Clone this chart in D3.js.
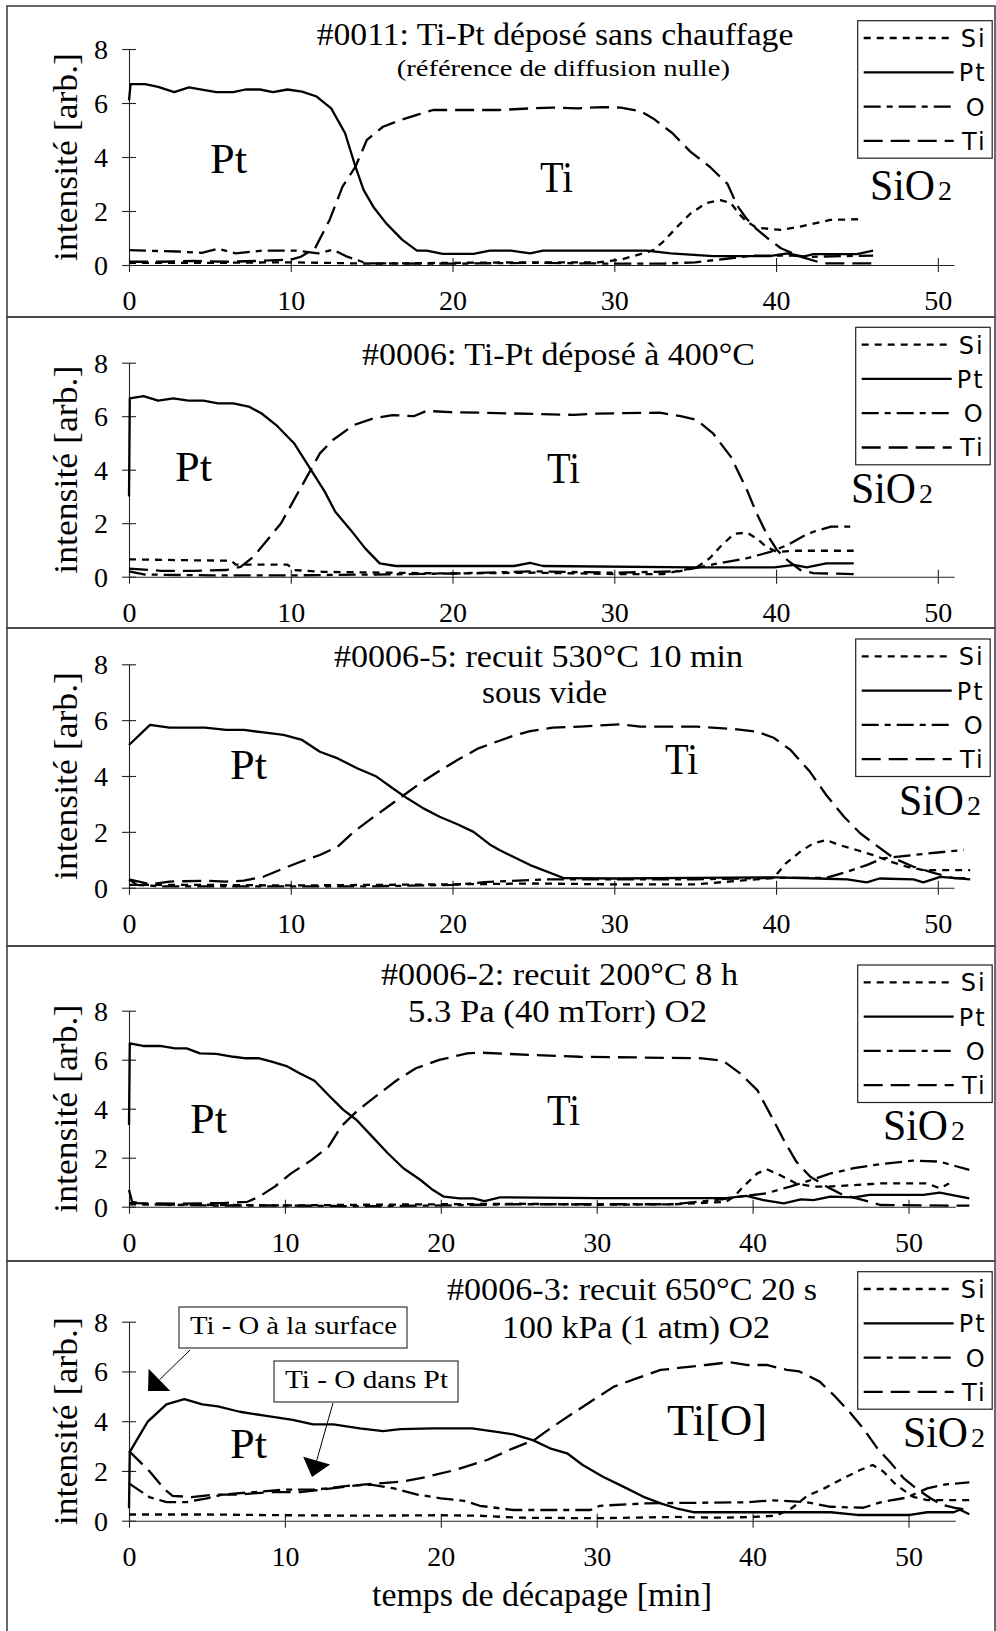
<!DOCTYPE html>
<html>
<head>
<meta charset="utf-8">
<script src="https://cdn.jsdelivr.net/npm/d3@7"></script>
<style>
  body { margin: 0; background: #fff; }
  svg { display: block; }
</style>
</head>
<body>
<svg id="chart" width="996" height="1631"></svg>
<script>
// ---- Depth profiles (AES sputter profiles): [time (min), intensity (arb.)] ----
const elements = ["Si", "Pt", "O", "Ti"];
const xTicks = [0, 10, 20, 30, 40, 50];
const yTicks = [0, 2, 4, 6, 8];

const titles = [
  "#0011: Ti-Pt déposé sans chauffage",
  "#0006: Ti-Pt déposé à 400°C",
  "#0006-5: recuit 530°C 10 min",
  "#0006-2: recuit 200°C 8 h",
  "#0006-3: recuit 650°C 20 s"
];
const subtitles = [
  "(référence de diffusion nulle)",
  "",
  "sous vide",
  "5.3 Pa (40 mTorr) O2",
  "100 kPa (1 atm) O2"
];
const layerLabels = [
  ["Pt", "Ti", "SiO"],
  ["Pt", "Ti", "SiO"],
  ["Pt", "Ti", "SiO"],
  ["Pt", "Ti", "SiO"],
  ["Pt", "Ti[O]", "SiO"]
];
const yTitle = "intensité [arb.]";
const xTitle = "temps de décapage [min]";
const notes = ["Ti - O à la surface", "Ti - O dans Pt"];

// #0011
const p1Si = [[0,0.08],[5,0.08],[10,0.1],[15,0.05],[20,0.08],[25,0.1],[29,0.1],[30.4,0.2],[31.6,0.4],[32.4,0.55],[33.0,0.85],[33.9,1.42],[34.7,1.9],[35.7,2.3],[36.55,2.4],[37.2,2.3],[37.7,1.9],[38.2,1.6],[38.8,1.38],[40.3,1.3],[41.5,1.42],[43.35,1.67],[45.4,1.7]];
const p1Pt = [[0,6.1],[0.1,6.7],[1,6.7],[1.8,6.6],[2.8,6.4],[3.7,6.58],[5.4,6.4],[6.45,6.4],[7.2,6.5],[8.1,6.5],[8.9,6.4],[9.8,6.5],[10.7,6.42],[11.6,6.24],[12.5,5.8],[13.36,4.88],[14.0,3.64],[14.5,2.78],[15.1,2.16],[15.9,1.54],[16.9,0.93],[17.8,0.53],[18.4,0.53],[19.4,0.41],[21.3,0.41],[22.3,0.53],[23.6,0.53],[24.8,0.43],[25.6,0.53],[32.0,0.53],[33.5,0.43],[36.1,0.33],[39.6,0.33],[40.7,0.43],[41.7,0.31],[42.3,0.4],[45.0,0.4],[46.0,0.53]];
const p1O  = [[0,0.55],[1,0.53],[3,0.5],[4.5,0.45],[5.5,0.6],[6.6,0.43],[8.2,0.53],[10.4,0.53],[11.7,0.43],[12.6,0.57],[13.4,0.33],[14.7,0.06],[20,0.05],[25,0.08],[30,0.05],[33,0.05],[35,0.1],[37.2,0.25],[38.5,0.35],[41,0.35],[42,0.3],[44,0.33],[46,0.35]];
const p1Ti = [[0,0.12],[2,0.12],[4,0.15],[6,0.12],[8,0.15],[10,0.2],[10.6,0.3],[11.5,0.62],[12.4,1.67],[13.2,2.9],[14.0,3.64],[14.7,4.63],[15.7,5.12],[16.8,5.37],[17.8,5.56],[18.8,5.74],[20,5.74],[22.9,5.74],[24.8,5.8],[26.2,5.83],[27.7,5.8],[29.3,5.85],[30.4,5.83],[31.6,5.7],[32.4,5.43],[33.6,4.88],[34.7,4.2],[35.9,3.64],[37.0,3.0],[37.6,2.2],[38.2,1.7],[38.8,1.33],[39.6,0.93],[40.3,0.62],[41.5,0.31],[42.9,0.06],[46.0,0.06]];

// #0006
const p2Si = [[0,0.65],[3,0.62],[6.3,0.6],[6.6,0.45],[9.8,0.45],[10.2,0.25],[12,0.18],[16,0.15],[20,0.12],[25,0.15],[30,0.1],[33,0.1],[35.1,0.35],[35.9,0.69],[36.55,1.12],[37.4,1.6],[38.2,1.65],[38.8,1.43],[39.4,1.12],[40.05,0.93],[41.3,0.97],[44.8,0.97]];
const p2Pt = [[0,3.0],[0.05,6.67],[0.9,6.75],[1.8,6.58],[2.75,6.67],[3.67,6.58],[4.6,6.58],[5.5,6.48],[6.45,6.48],[7.4,6.36],[8.2,6.1],[9.1,5.67],[10.2,4.99],[11.25,3.99],[12.1,3.18],[12.75,2.43],[13.7,1.75],[14.6,1.06],[15.5,0.5],[16.5,0.4],[23.8,0.4],[24.8,0.52],[25.6,0.4],[34.9,0.35],[39.9,0.35],[41.1,0.44],[41.9,0.35],[43.1,0.5],[44.8,0.5]];
const p2O  = [[0,0.2],[1,0.08],[5,0.05],[10,0.05],[15,0.08],[20,0.12],[25,0.2],[30,0.15],[34,0.2],[36.1,0.46],[38.2,0.69],[39.65,0.93],[40.7,1.18],[41.7,1.52],[42.3,1.68],[43.4,1.87],[44.8,1.87]];
const p2Ti = [[0,0.3],[2,0.22],[4,0.22],[6,0.25],[6.9,0.37],[7.7,0.75],[8.55,1.37],[9.4,2.0],[10.2,2.87],[11.0,3.74],[11.8,4.61],[12.6,5.11],[13.9,5.67],[15.1,5.92],[16.3,6.04],[17.6,6.0],[18.4,6.2],[19.85,6.15],[21.7,6.13],[27.5,6.05],[28.9,6.1],[32.8,6.13],[34.1,6.0],[35.1,5.86],[36.1,5.36],[37.2,4.49],[38.2,3.24],[38.8,2.37],[39.4,1.62],[40.05,1.0],[40.7,0.62],[41.5,0.25],[42.3,0.13],[44.8,0.1]];

// #0006-5
const p3Si = [[0,0.1],[5,0.1],[10,0.08],[15,0.1],[20,0.12],[25,0.15],[30,0.12],[35,0.12],[39.85,0.35],[40.6,0.87],[41.5,1.29],[42.3,1.59],[43.1,1.71],[43.9,1.53],[45.0,1.35],[46.0,1.17],[47.1,0.93],[48.1,0.75],[49.1,0.63],[52,0.63]];
const p3Pt = [[0,5.11],[1.3,5.83],[2.5,5.73],[4.7,5.73],[6.0,5.65],[7.1,5.65],[8.3,5.56],[9.55,5.47],[10.7,5.29],[11.8,4.87],[12.9,4.63],[14.1,4.28],[15.3,3.98],[16.3,3.56],[17.2,3.2],[18.2,2.84],[19.2,2.54],[20.3,2.27],[21.3,2.0],[22.3,1.55],[22.9,1.35],[24.8,0.81],[26.9,0.34],[30,0.33],[35,0.35],[40,0.37],[43.1,0.32],[44.4,0.3],[45.6,0.19],[46.4,0.33],[48.5,0.3],[49.1,0.19],[50.15,0.39],[52.0,0.3]];
const p3O  = [[0,0.3],[0.5,0.1],[2,0.05],[10,0.05],[15,0.05],[20,0.1],[22,0.2],[26,0.3],[30,0.3],[35,0.3],[40,0.35],[43.1,0.35],[44.4,0.57],[45.6,0.81],[46.6,1.05],[48.5,1.17],[50.15,1.27],[51.6,1.35]];
const p3Ti = [[0,0.3],[1.3,0.12],[2.5,0.22],[4.7,0.25],[6.0,0.22],[7.1,0.25],[8.3,0.39],[9.55,0.69],[10.6,0.93],[11.8,1.17],[12.9,1.47],[13.9,2.0],[15.0,2.48],[16.0,2.9],[17.0,3.32],[18.0,3.74],[19.1,4.15],[20.3,4.57],[21.6,4.99],[23.6,5.41],[24.8,5.61],[26.2,5.73],[27.9,5.77],[30.4,5.85],[31.6,5.77],[35.1,5.77],[37.4,5.68],[38.8,5.59],[39.85,5.37],[40.9,4.93],[42.1,4.15],[43.1,3.32],[44.2,2.54],[45.2,1.95],[46.3,1.47],[47.3,1.05],[48.5,0.75],[49.8,0.52],[51.0,0.34],[51.7,0.34]];

// #0006-2
const p4Si = [[0,0.1],[5,0.08],[10,0.05],[15,0.08],[20,0.1],[25,0.12],[30,0.08],[35,0.1],[38.3,0.2],[38.8,0.4],[39.4,0.82],[40.3,1.36],[40.9,1.53],[41.75,1.29],[42.8,0.95],[43.9,0.82],[44.9,0.82],[48.2,0.95],[51.2,0.95],[52.0,0.75],[52.6,0.95]];
const p4Pt = [[0,3.33],[0.05,6.67],[0.9,6.56],[2.0,6.56],[2.95,6.46],[3.7,6.46],[4.55,6.26],[5.6,6.24],[6.7,6.12],[7.4,6.06],[8.3,6.06],[9.15,5.92],[10.1,5.74],[10.97,5.44],[11.9,5.14],[12.9,4.49],[13.75,3.95],[14.6,3.54],[15.6,2.86],[16.6,2.18],[17.6,1.57],[18.7,1.09],[19.5,0.68],[20.2,0.41],[21.2,0.34],[22.1,0.34],[22.8,0.23],[23.8,0.38],[30,0.35],[38.3,0.35],[39.6,0.44],[40.7,0.27],[42.0,0.14],[43.1,0.3],[43.9,0.27],[45.0,0.41],[46.5,0.38],[47.5,0.48],[50.95,0.48],[52.0,0.57],[53.9,0.34]];
const p4O  = [[0,0.68],[0.2,0.2],[1,0.1],[5,0.05],[10,0.05],[15,0.02],[20,0.05],[25,0.1],[30,0.1],[35,0.1],[38,0.3],[39.2,0.41],[40.9,0.55],[42.4,0.82],[43.9,1.12],[45.0,1.36],[46.5,1.57],[48.2,1.74],[50.3,1.88],[52.0,1.84],[53.9,1.5]];
const p4Ti = [[0,0.15],[3,0.12],[6,0.15],[7.6,0.2],[8.35,0.41],[9.35,0.82],[10.4,1.36],[11.7,1.9],[12.8,2.45],[13.6,3.27],[14.7,3.95],[15.8,4.49],[17.2,5.17],[18.4,5.65],[19.9,5.99],[21.7,6.26],[22.5,6.29],[25.9,6.19],[28.9,6.12],[36.6,6.06],[38.1,5.96],[39.2,5.44],[40.3,4.76],[41.1,3.81],[42.0,2.72],[42.8,1.84],[43.7,1.22],[44.75,0.82],[45.8,0.48],[47.1,0.27],[48.2,0.07],[53.9,0.04]];

// #0006-3
const p5Si = [[0,0.25],[5,0.25],[10,0.22],[15,0.2],[20,0.22],[22.5,0.2],[25,0.12],[30,0.1],[35,0.15],[38,0.12],[40,0.15],[41.5,0.2],[42.5,0.5],[43.5,1.0],[44.6,1.3],[45.8,1.7],[46.9,2.04],[47.7,2.24],[48.4,1.97],[49.2,1.44],[50.3,0.96],[51.2,0.83],[53.9,0.83]];
const p5Pt = [[0,0.5],[0.05,2.77],[1.2,3.98],[2.4,4.68],[3.55,4.89],[4.7,4.68],[5.7,4.6],[7.1,4.38],[8.7,4.22],[10.5,4.05],[11.8,3.87],[13.1,3.87],[14.8,3.71],[16.3,3.6],[17.4,3.68],[19.5,3.71],[22.0,3.71],[23.8,3.55],[24.65,3.47],[25.9,3.24],[27.0,2.91],[28.1,2.71],[29.1,2.24],[30.4,1.77],[31.7,1.37],[33.0,0.96],[34.1,0.7],[35.1,0.5],[36.2,0.34],[39.6,0.34],[45.0,0.34],[46.7,0.23],[50.1,0.23],[51.2,0.34],[52.9,0.34],[53.3,0.44],[53.9,0.26]];
const p5O  = [[0,1.5],[1.3,0.95],[2.4,0.75],[3.7,0.75],[5,0.9],[6,1.05],[8,1.15],[10,1.25],[12,1.25],[14,1.4],[15.5,1.45],[17,1.3],[18.5,1.05],[20,0.9],[21.5,0.8],[22.5,0.6],[24.65,0.43],[29.6,0.43],[30.2,0.6],[33.2,0.7],[39.6,0.74],[41.3,0.82],[43.5,0.74],[45.0,0.56],[47.1,0.52],[48.2,0.74],[49.9,0.93],[51.2,1.3],[52.4,1.46],[53.9,1.54]];
const p5Ti = [[0,2.8],[1.3,2.0],[2.3,1.25],[2.8,1.0],[4,0.95],[5.5,1.05],[7,1.05],[9,1.15],[11,1.15],[13,1.3],[15,1.45],[17.5,1.57],[19,1.75],[21,2.05],[23,2.45],[24.6,2.9],[26,3.25],[27,3.7],[28.3,4.25],[29.6,4.78],[31.1,5.39],[32.6,5.73],[34.1,6.06],[35.4,6.15],[37,6.26],[38.5,6.37],[39.6,6.26],[40.9,6.26],[42.2,6.06],[43,6.0],[44.3,5.59],[45.2,5.05],[46.2,4.38],[47.1,3.71],[48,2.91],[48.8,2.37],[49.7,1.7],[50.5,1.3],[51.4,0.9],[52.2,0.63],[53.1,0.5],[53.9,0.44]];

const profiles = [
  [p1Si, p1Pt, p1O, p1Ti],
  [p2Si, p2Pt, p2O, p2Ti],
  [p3Si, p3Pt, p3O, p3Ti],
  [p4Si, p4Pt, p4O, p4Ti],
  [p5Si, p5Pt, p5O, p5Ti]
];

// ---- Styling and placement ----
const SERIF = "'Liberation Serif', 'Times New Roman', serif";
const SANS = "'DejaVu Sans', Verdana, sans-serif";
const dashes = { Si: "7,6", Pt: null, O: "17,6,6,6", Ti: "19,8" };

const frames = [
  { top: 6,    bot: 317,  y0: 265,    y8: 49,     xMax: 51, xEnd: 954, leg: [857.7, 20.7],
    title: [316.7, 476.7, 45, 31], sub: [396.7, 333.3, 76, 24],
    pt: [210, 173], ti: [540, 192, 33], sio: [870, 200] },
  { top: 317,  bot: 628,  y0: 576.7,  y8: 362.7,  xMax: 51, xEnd: 954, leg: [855.7, 327.3],
    title: [362, 393, 365, 31], sub: null,
    pt: [175, 481], ti: [547, 483, 33], sio: [851, 503] },
  { top: 628,  bot: 946,  y0: 887.7,  y8: 664.3,  xMax: 51, xEnd: 954, leg: [855.7, 639],
    title: [334, 409, 667, 31], sub: [482, 125, 703, 31],
    pt: [230, 779], ti: [665, 774, 33], sio: [899, 815] },
  { top: 946,  bot: 1261, y0: 1206.7, y8: 1010.7, xMax: 53, xEnd: 955.3, leg: [857.7, 965],
    title: [381, 357, 985, 31], sub: [408, 299, 1022, 31],
    pt: [190, 1133], ti: [547, 1125, 33], sio: [883, 1140] },
  { top: 1261, bot: 1640, y0: 1520.7, y8: 1321.7, xMax: 53, xEnd: 955.3, leg: [857.7, 1271.7],
    title: [447, 370, 1300, 31], sub: [502, 268, 1338, 31],
    pt: [230, 1458], ti: [667, 1435, 100], sio: [903, 1447] }
];

const svg = d3.select("#chart");

function fitText(g, str, x, y, size, width, family) {
  const t = g.append("text")
    .attr("x", x).attr("y", y)
    .attr("font-family", family || SERIF)
    .attr("font-size", size)
    .attr("fill", "#000")
    .text(str);
  if (width) t.attr("textLength", width).attr("lengthAdjust", "spacingAndGlyphs");
  return t;
}

frames.forEach((f, i) => {
  const g = svg.append("g");

  // panel frame
  g.append("rect")
    .attr("x", 7).attr("y", f.top)
    .attr("width", 988).attr("height", f.bot - f.top)
    .attr("fill", "none").attr("stroke", "#444").attr("stroke-width", 1.6);

  const x = d3.scaleLinear().domain([0, f.xMax]).range([129, f.xEnd]);
  const y = d3.scaleLinear().domain([0, 8]).range([f.y0, f.y8]);

  // axes: ticks cross the axis lines on both sides
  const xAxis = g.append("g").attr("transform", `translate(0,${f.y0})`)
    .call(d3.axisBottom(x).tickValues(xTicks).tickSizeInner(7).tickSizeOuter(0).tickFormat(d3.format("d")));
  g.append("g").attr("transform", `translate(0,${f.y0})`)
    .call(d3.axisBottom(x).tickValues(xTicks).tickSizeInner(-7).tickSizeOuter(0).tickFormat(""))
    .select(".domain").remove();
  xAxis.selectAll("text")
    .attr("y", 45).attr("dy", 0)
    .attr("font-family", SERIF).attr("font-size", 28).attr("fill", "#000");

  const yAxis = g.append("g").attr("transform", "translate(129,0)")
    .call(d3.axisLeft(y).tickValues(yTicks).tickSizeInner(7).tickSizeOuter(0));
  g.append("g").attr("transform", "translate(129,0)")
    .call(d3.axisLeft(y).tickValues(yTicks).tickSizeInner(-7).tickSizeOuter(0).tickFormat(""))
    .select(".domain").remove();
  yAxis.selectAll("text")
    .attr("x", -21).attr("dy", "0.34em")
    .attr("font-family", SERIF).attr("font-size", 28).attr("fill", "#000");

  g.selectAll(".domain, .tick line").attr("stroke", "#222").attr("stroke-width", 1.1);

  // y axis title
  const cy = (f.y0 + f.y8) / 2;
  g.append("text")
    .attr("transform", `translate(77,${cy}) rotate(-90)`)
    .attr("text-anchor", "middle")
    .attr("font-family", SERIF).attr("font-size", 34)
    .attr("textLength", 208).attr("lengthAdjust", "spacingAndGlyphs")
    .text(yTitle);

  // profiles
  const line = d3.line().x(d => x(d[0])).y(d => y(d[1]));
  profiles[i].forEach((series, k) => {
    g.append("path")
      .datum(series)
      .attr("d", line)
      .attr("fill", "none")
      .attr("stroke", "#000")
      .attr("stroke-width", 2.3)
      .attr("stroke-linejoin", "round")
      .attr("stroke-dasharray", dashes[elements[k]]);
  });

  // titles
  fitText(g, titles[i], f.title[0], f.title[2], f.title[3], f.title[1]);
  if (f.sub && subtitles[i]) fitText(g, subtitles[i], f.sub[0], f.sub[2], f.sub[3], f.sub[1]);

  // layer labels
  fitText(g, layerLabels[i][0], f.pt[0], f.pt[1], 42, 37);
  fitText(g, layerLabels[i][1], f.ti[0], f.ti[1], 44, f.ti[2]);
  fitText(g, layerLabels[i][2], f.sio[0], f.sio[1], 44, 65);
  fitText(g, "2", f.sio[0] + 68, f.sio[1], 28, 14);

  // legend
  const lg = g.append("g").attr("transform", `translate(${f.leg[0]},${f.leg[1]})`);
  lg.append("rect").attr("width", 134.5).attr("height", 137.5)
    .attr("fill", "#fff").attr("stroke", "#222").attr("stroke-width", 1.2);
  elements.forEach((el, k) => {
    const ry = 17.3 + k * 34.3;
    lg.append("line")
      .attr("x1", 6).attr("x2", 96).attr("y1", ry).attr("y2", ry)
      .attr("stroke", "#000").attr("stroke-width", 2.3)
      .attr("stroke-dasharray", dashes[el]);
    lg.append("text")
      .attr("x", 129).attr("y", ry + 9)
      .attr("text-anchor", "end")
      .attr("font-family", SANS).attr("font-size", 24)
      .attr("letter-spacing", 2)
      .text(el);
  });
});

// x axis title (bottom panel)
fitText(svg, xTitle, 372, 1606, 33, 340);

// callouts in the bottom panel
const callouts = [
  { box: [179, 1307, 228, 41], text: [190, 1334, 207], from: [190, 1350], tip: [148, 1391], len: 16, half: 15.5 },
  { box: [274, 1361, 184, 41], text: [285, 1388.3, 163], from: [333, 1403], tip: [312, 1477], len: 17, half: 14 }
];
callouts.forEach((c, k) => {
  svg.append("rect")
    .attr("x", c.box[0]).attr("y", c.box[1]).attr("width", c.box[2]).attr("height", c.box[3])
    .attr("fill", "#fff").attr("stroke", "#222").attr("stroke-width", 1.1);
  fitText(svg, notes[k], c.text[0], c.text[1], 26, c.text[2]);
  const dx = c.tip[0] - c.from[0], dy = c.tip[1] - c.from[1];
  const L = Math.hypot(dx, dy), ux = dx / L, uy = dy / L;
  const bx = c.tip[0] - ux * c.len, by = c.tip[1] - uy * c.len;
  svg.append("line")
    .attr("x1", c.from[0]).attr("y1", c.from[1]).attr("x2", bx).attr("y2", by)
    .attr("stroke", "#000").attr("stroke-width", 1);
  svg.append("path")
    .attr("d", d3.line()([
      c.tip,
      [bx - uy * c.half, by + ux * c.half],
      [bx + uy * c.half, by - ux * c.half]
    ]) + "Z")
    .attr("fill", "#000");
});
</script>
</body>
</html>
